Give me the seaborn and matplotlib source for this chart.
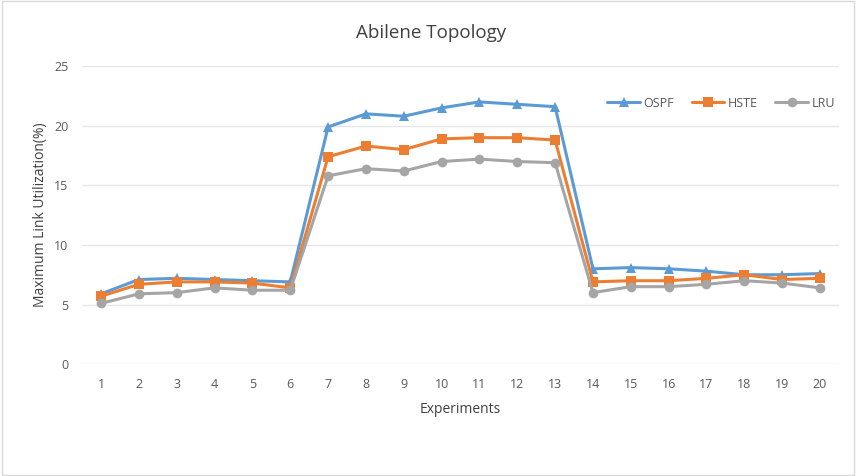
import pandas as pd
import seaborn as sns
import matplotlib.pyplot as plt

experiments = list(range(1, 21))
ospf = [5.9, 7.1, 7.2, 7.1, 7.0, 6.9, 19.9, 21.0, 20.8, 21.5, 22.0, 21.8, 21.6,
        8.0, 8.1, 8.0, 7.8, 7.5, 7.5, 7.6]
hste = [5.7, 6.7, 6.9, 6.9, 6.8, 6.4, 17.4, 18.3, 18.0, 18.9, 19.0, 19.0, 18.8,
        6.9, 7.0, 7.0, 7.2, 7.5, 7.1, 7.2]
lru = [5.1, 5.9, 6.0, 6.4, 6.2, 6.2, 15.8, 16.4, 16.2, 17.0, 17.2, 17.0, 16.9,
       6.0, 6.5, 6.5, 6.7, 7.0, 6.8, 6.4]

df = pd.DataFrame({'Experiments': experiments, 'OSPF': ospf, 'HSTE': hste, 'LRU': lru})
long = df.melt(id_vars='Experiments', var_name='Method', value_name='Util')

sns.set_style('white')
plt.rcParams['font.family'] = ['Open Sans', 'DejaVu Sans']

fig = plt.figure(figsize=(8.56, 4.76), dpi=100)
ax = fig.add_axes([0.096, 0.235, 0.884, 0.626])
fig.patches.append(plt.Rectangle((0.002, 0.002), 0.996, 0.996, transform=fig.transFigure,
                                 fill=False, edgecolor='#d9d9d9', linewidth=1))

palette = {'OSPF': '#5B9BD5', 'HSTE': '#ED7D31', 'LRU': '#A5A5A5'}
markers = {'OSPF': '^', 'HSTE': 's', 'LRU': 'o'}
sns.lineplot(data=long, x='Experiments', y='Util', hue='Method', style='Method',
             palette=palette, markers=markers, dashes=False, linewidth=2.2,
             markersize=7, markeredgewidth=0, ax=ax)

ax.set_xlim(0.5, 20.5)
ax.set_ylim(0, 25)
ax.set_xticks(experiments)
ax.set_yticks([0, 5, 10, 15, 20, 25])
ax.grid(axis='y', color='#e6e6e6', linewidth=1)
ax.set_axisbelow(True)
for s in ax.spines.values():
    s.set_visible(False)
ax.tick_params(axis='both', length=0, labelsize=9, colors='#595959', pad=10)
ax.set_xlabel('Experiments', fontsize=10, color='#404040', labelpad=8)
ax.set_ylabel('Maximum Link Utilization(%)', fontsize=10, color='#404040')
fig.text(0.503, 0.93, 'Abilene Topology', fontsize=13.5, color='#404040',
         ha='center', va='center')

ax.legend(loc='upper right', bbox_to_anchor=(1.01, 0.935), ncol=3, frameon=False,
          fontsize=9, labelcolor='#595959', handlelength=2.6, columnspacing=1.4,
          handletextpad=0.3)

fig.savefig('out.png', dpi=100)
